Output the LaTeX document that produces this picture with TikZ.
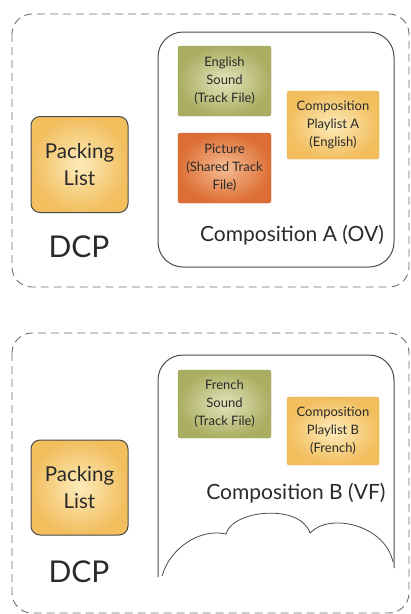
\documentclass[tikz,border=0pt]{standalone}
\usepackage{fontspec}
\setmainfont{Lato}
\usetikzlibrary{positioning}

\definecolor{framegray}{HTML}{6E6E6E}
\definecolor{linegray}{HTML}{4A4A4A}
\definecolor{textgray}{HTML}{2A2A2A}
\definecolor{yelin}{HTML}{FCEBBA}
\definecolor{yelout}{HTML}{F2BE5E}
\definecolor{olivein}{HTML}{E3E4BC}
\definecolor{oliveout}{HTML}{ABAE62}
\definecolor{redin}{HTML}{F5BC92}
\definecolor{redout}{HTML}{DD6F35}

\begin{document}
\begin{tikzpicture}[
    x=1pt, y=-1pt,
    % === STYLES ===
    dcp frame/.style={draw=framegray, dashed, dash pattern=on 8pt off 5pt, line width=0.9pt, rounded corners=20pt},
    comp box/.style={draw=linegray, line width=1pt, rounded corners=25pt},
    file box/.style={rectangle, rounded corners=2pt, minimum width=93pt, minimum height=70pt,
        align=center, text=textgray, font=\fontsize{13}{18}\selectfont},
    yellow file/.style={file box, inner color=yelin, outer color=yelout, draw=yelout!90!black, line width=0.3pt},
    olive file/.style={file box, inner color=olivein, outer color=oliveout, draw=oliveout!90!black, line width=0.3pt},
    red file/.style={file box, inner color=redin, outer color=redout, draw=redout!90!black, line width=0.3pt},
    pkl box/.style={rectangle, rounded corners=9pt, minimum width=97pt, minimum height=96pt,
        align=center, text=textgray, font=\fontsize{20.5}{27}\selectfont,
        inner color=yelin, outer color=yelout, draw=linegray, line width=1pt},
    dcp label/.style={text=textgray, font=\fontsize{30}{30}\selectfont},
    comp label/.style={text=textgray, font=\fontsize{21}{24}\selectfont},
]
    \useasboundingbox (0,0) rectangle (411,614);

    % === DCP 1 ===
    \draw[dcp frame] (12,14) rectangle (409,287);
    \node[pkl box] (pklA) at (79.5,164.5) {Packing\\List};
    \node[dcp label] (dcpA) at (79,247) {DCP};

    % === COMPOSITION A ===
    \node[comp box, minimum width=236pt, minimum height=235pt] (compA) at (276,149.5) {};
    \node[olive file] (soundA) at (224.5,81) {English\\Sound\\(Track File)};
    \node[red file] (picA) at (224.5,168) {Picture\\(Shared Track\\File)};
    \node[yellow file, minimum width=92pt, minimum height=68pt] (cplA) at (333,125) {Composition\\Playlist A\\(English)};
    \node[comp label] (labA) at (292,235) {Composition A (OV)};

    % === DCP 2 ===
    \draw[dcp frame] (12,333) rectangle (409,613);
    \node[pkl box, minimum height=95pt] (pklB) at (79.5,487.5) {Packing\\List};
    \node[dcp label] (dcpB) at (79,572) {DCP};

    % === COMPOSITION B (ouverte, avec nuage) ===
    \draw[draw=linegray, line width=1pt, rounded corners=25pt]
        (158,577) -- (158,355) -- (394,355) -- (394,568);
    \draw[draw=linegray, line width=0.8pt]
        (162,576) .. controls (170,548) and (200,528) .. (226,534)
        .. controls (232,510) and (300,503) .. (310,533)
        .. controls (330,512) and (385,525) .. (393,562);
    \node[olive file, minimum height=68pt] (soundB) at (224.5,404) {French\\Sound\\(Track File)};
    \node[yellow file, minimum width=92pt, minimum height=68pt] (cplB) at (333,431) {Composition\\Playlist B\\(French)};
    \node[comp label] (labB) at (296,493) {Composition B (VF)};

\end{tikzpicture}
\end{document}
